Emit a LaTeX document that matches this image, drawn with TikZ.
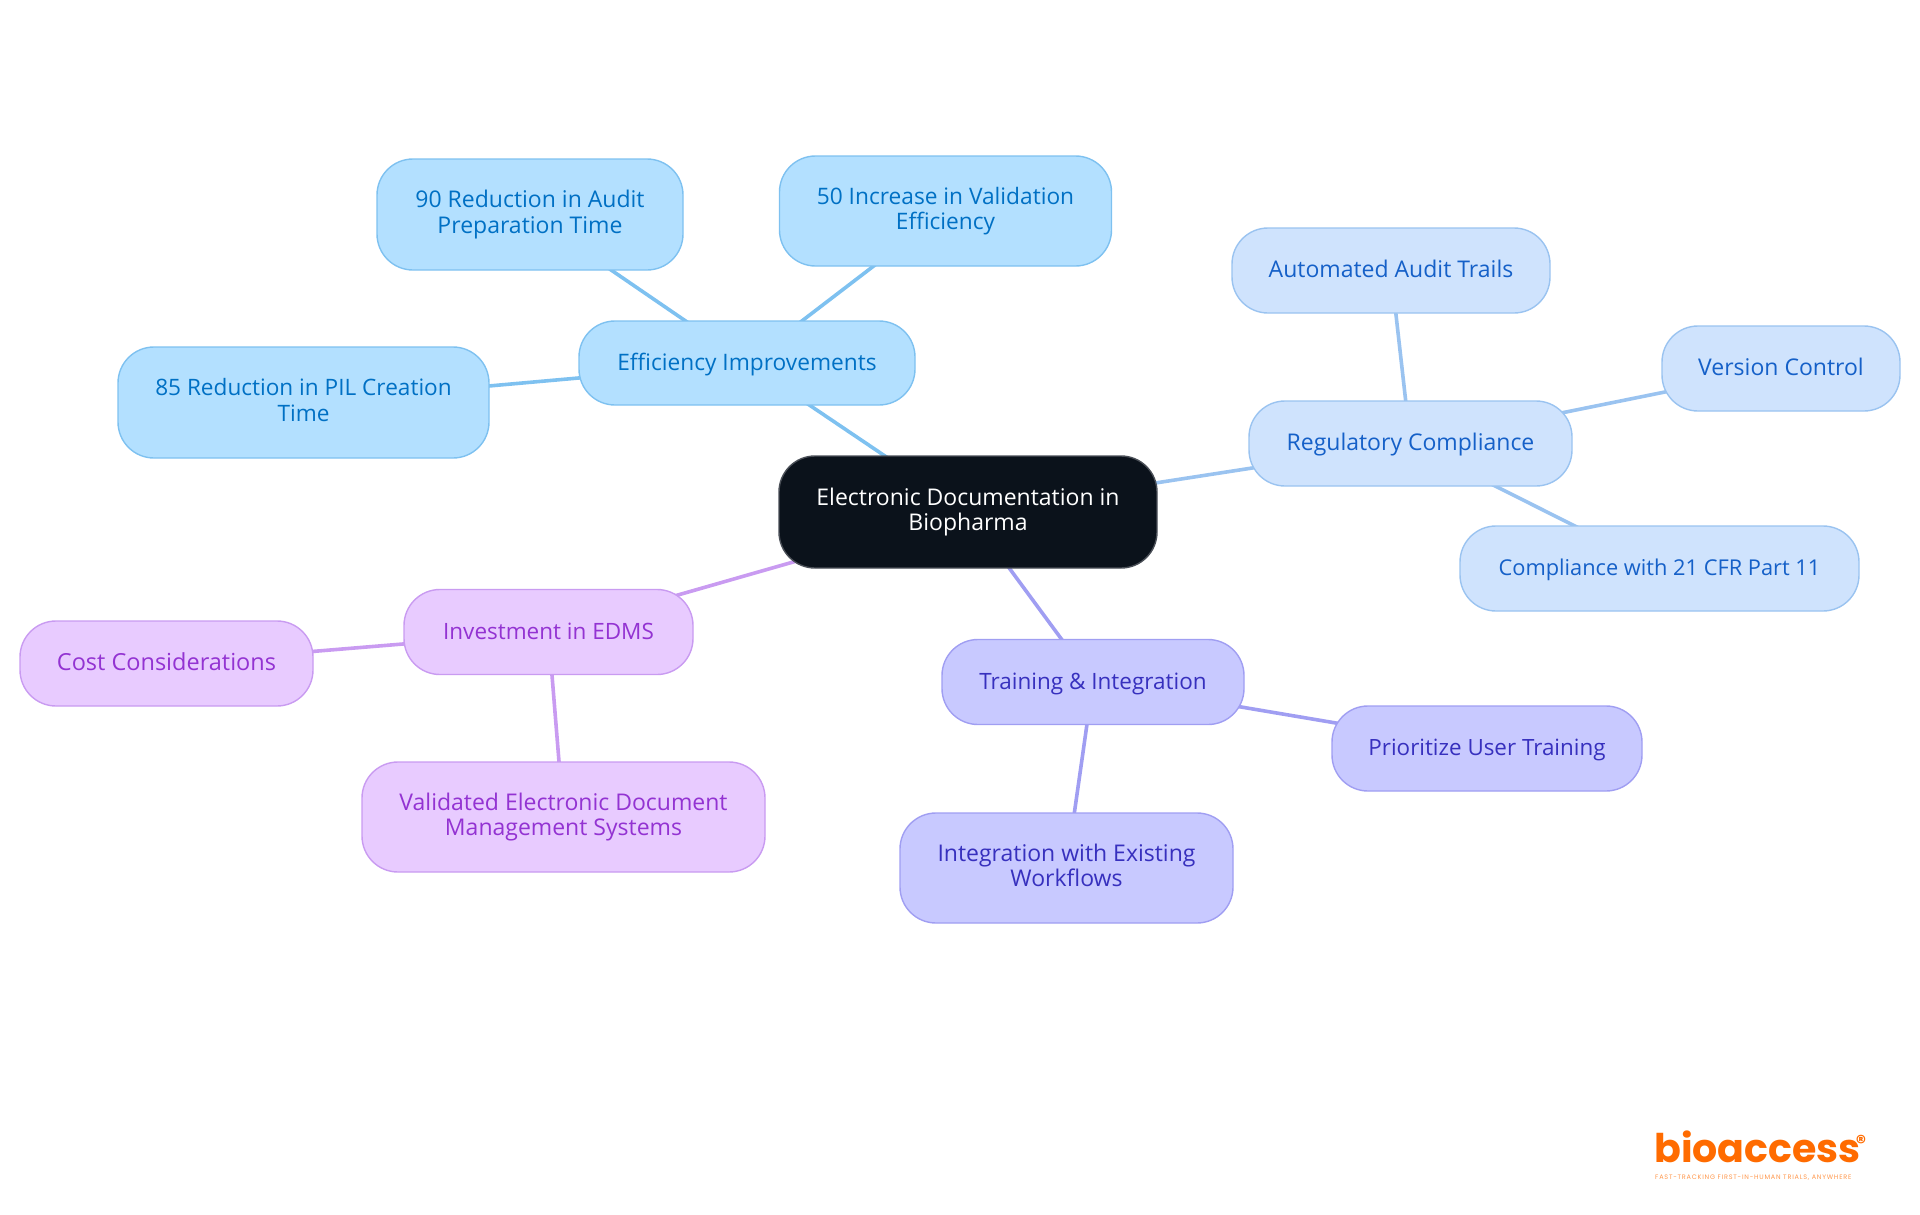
\documentclass[tikz,border=0pt]{standalone}
\usepackage{fontspec}
\setmainfont{Open Sans}
\newfontfamily\logofont{Poppins}
\newfontfamily\tagfont[LetterSpace=12]{Poppins}
\usetikzlibrary{backgrounds}
\definecolor{cblueF}{HTML}{B3E0FF}\definecolor{cblueD}{HTML}{7EC1F0}\definecolor{cblueT}{HTML}{0070C4}
\definecolor{cskyF}{HTML}{CFE3FD}\definecolor{cskyD}{HTML}{9AC3F0}\definecolor{cskyT}{HTML}{1560C8}
\definecolor{cindF}{HTML}{C8C9FF}\definecolor{cindD}{HTML}{A09EF2}\definecolor{cindT}{HTML}{3730BE}
\definecolor{cpurF}{HTML}{E8CBFF}\definecolor{cpurD}{HTML}{C99BF1}\definecolor{cpurT}{HTML}{9333D2}
\definecolor{cdark}{HTML}{0B121B}\definecolor{cdarkD}{HTML}{4A4F57}\definecolor{corange}{HTML}{FF6B00}
\tikzset{
 fsize/.style={font=\fontsize{#1}{25.5}\selectfont},
 box/.style={rounded corners=36pt,line width=1.4pt,inner sep=0pt,align=center,fsize=23,
   execute at begin node={\rule{0pt}{19.5pt}},execute at end node={\vphantom{Apg}}},
 rootbox/.style={box,fill=cdark,draw=cdarkD,text=white},
 bluebox/.style={box,fill=cblueF,draw=cblueD,text=cblueT},
 skybox/.style={box,fill=cskyF,draw=cskyD,text=cskyT},
 indbox/.style={box,fill=cindF,draw=cindD,text=cindT},
 purbox/.style={box,fill=cpurF,draw=cpurD,text=cpurT},
 bluelink/.style={draw=cblueD,line width=3.6pt},
 skylink/.style={draw=cskyD,line width=3.6pt},
 indlink/.style={draw=cindD,line width=3.6pt},
 purlink/.style={draw=cpurD,line width=3.6pt},
}
\begin{document}
\begin{tikzpicture}[x=1pt,y=-1pt]
\useasboundingbox (0,0) rectangle (1920,1215);
\node[rootbox,minimum width=378pt,minimum height=112pt] (root) at (968,512) {Electronic Documentation in\\Biopharma};
\node[bluebox,fsize=22.7,minimum width=336pt,minimum height=84pt] (eff) at (747,363) {Efficiency Improvements};
\node[bluebox,minimum width=306pt,minimum height=111pt] (aud) at (530,214.5) {90 Reduction in Audit\\Preparation Time};
\node[bluebox,fsize=22.7,minimum width=332pt,minimum height=110pt] (val) at (945.5,211) {50 Increase in Validation\\Efficiency};
\node[bluebox,fsize=22.6,minimum width=371pt,minimum height=111pt] (pil) at (303.5,402.5) {85 Reduction in PIL Creation\\Time};
\node[skybox,minimum width=323pt,minimum height=85pt] (reg) at (1410.5,443.5) {Regulatory Compliance};
\node[skybox,minimum width=318pt,minimum height=85pt] (trl) at (1391,270.5) {Automated Audit Trails};
\node[skybox,minimum width=238pt,minimum height=85pt] (ver) at (1781,368.5) {Version Control};
\node[skybox,fsize=21.8,minimum width=399pt,minimum height=85pt] (cfr) at (1659.5,568.5) {Compliance with 21 CFR Part 11};
\node[indbox,fsize=22.5,minimum width=302pt,minimum height=85pt] (trn) at (1093,682) {Training \& Integration};
\node[indbox,fsize=22.4,minimum width=310pt,minimum height=85pt] (usr) at (1487,748.5) {Prioritize User Training};
\node[indbox,minimum width=333pt,minimum height=110pt] (wrk) at (1066.5,868) {Integration with Existing\\Workflows};
\node[purbox,fsize=22.5,minimum width=289pt,minimum height=85pt] (inv) at (548.5,632) {Investment in EDMS};
\node[purbox,fsize=23.5,minimum width=293pt,minimum height=85pt] (cst) at (166.5,663.5) {Cost Considerations};
\node[purbox,minimum width=403pt,minimum height=110pt] (edm) at (563.5,817) {Validated Electronic Document\\Management Systems};
\begin{pgfonlayer}{background}
\draw[bluelink] (root.center) -- (eff.center);
\draw[bluelink] (eff.center) -- (aud.center);
\draw[bluelink] (eff.center) -- (val.center);
\draw[bluelink] (eff.center) -- (pil.center);
\draw[skylink] (root.center) -- (reg.center);
\draw[skylink] (reg.center) -- (trl.center);
\draw[skylink] (reg.center) -- (ver.center);
\draw[skylink] (reg.center) -- (cfr.center);
\draw[indlink] (root.center) -- (trn.center);
\draw[indlink] (trn.center) -- (usr.center);
\draw[indlink] (trn.center) -- (wrk.center);
\draw[purlink] (root.center) -- (inv.center);
\draw[purlink] (inv.center) -- (cst.center);
\draw[purlink] (inv.center) -- (edm.center);
\end{pgfonlayer}
\node[anchor=base west,inner sep=0pt,text=corange,font=\logofont\bfseries\fontsize{39.5}{40}\selectfont] (logo) at (1654,1162) {bioaccess};
\node[anchor=center,inner sep=0pt,text=corange,font=\logofont\bfseries\fontsize{20}{20}\selectfont] (reg2) at (1861,1142) {®};
\node[anchor=base west,inner sep=0pt,text=corange!70,font=\tagfont\fontsize{6.5}{7}\selectfont] (tag) at (1655,1179) {FAST-TRACKING FIRST-IN-HUMAN TRIALS, ANYWHERE};
\end{tikzpicture}
\end{document}
